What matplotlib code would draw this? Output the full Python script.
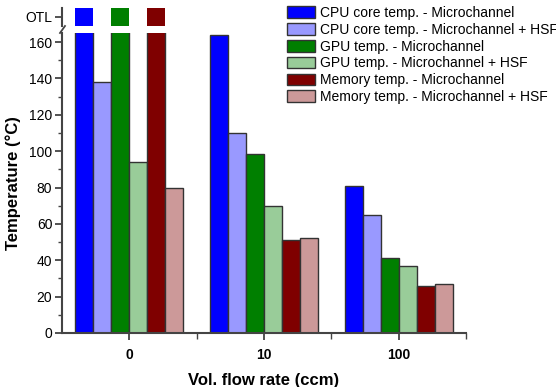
import numpy as np
import matplotlib
matplotlib.use("Agg")
import matplotlib.pyplot as plt
from matplotlib.ticker import MultipleLocator, FixedLocator

plt.rcParams['font.family'] = ['Liberation Sans', 'DejaVu Sans']

categories = ["0", "10", "100"]
series_labels = [
    "CPU core temp. - Microchannel",
    "CPU core temp. - Microchannel + HSF",
    "GPU temp. - Microchannel",
    "GPU temp. - Microchannel + HSF",
    "Memory temp. - Microchannel",
    "Memory temp. - Microchannel + HSF",
]
# "OTL" = over temperature limit
cpu_mc = ["OTL", 164, 81]
cpu_hsf = [138, 110, 65]
gpu_mc = ["OTL", 98.5, 41]
gpu_hsf = [94, 70, 37]
mem_mc = ["OTL", 51, 26]
mem_hsf = [80, 52, 27]
series_values = [cpu_mc, cpu_hsf, gpu_mc, gpu_hsf, mem_mc, mem_hsf]
colors = ["#0000FF", "#9999FF", "#007F00", "#99CC99", "#7F0000", "#CC9999"]

W, H = 556, 387
fig = plt.figure(figsize=(W / 100, H / 100), dpi=100)
left, right = 62 / W, 466 / W
ax = fig.add_axes([left, 1 - 333 / H, right - left, (333 - 33) / H])
axt = fig.add_axes([left, 1 - 26 / H, right - left, (26 - 8) / H], sharex=ax)

ymax = 165
x = np.arange(len(categories))
n = len(series_values)
bw = 0.8 / n
edge = "#333333"
for i, (vals, c, lab) in enumerate(zip(series_values, colors, series_labels)):
    pos = x - 0.4 + bw * (i + 0.5)
    lower = [ymax * 2 if v == "OTL" else v for v in vals]
    ax.bar(pos, lower, width=bw, color=c, edgecolor=edge, linewidth=1.0, label=lab)
    otl = [1 if v == "OTL" else 0 for v in vals]
    axt.bar(pos, otl, width=bw, color=c, edgecolor='none', linewidth=0)

ax.set_ylim(0, ymax)
ax.set_xlim(-0.5, 2.5)
axt.set_ylim(0, 1)

spine_c = "#444444"
for a in (ax, axt):
    for s in ("top", "right"):
        a.spines[s].set_visible(False)
    a.spines["left"].set_linewidth(1.5)
    a.spines["left"].set_color(spine_c)
axt.spines["bottom"].set_visible(False)
ax.spines["bottom"].set_linewidth(1.5)
ax.spines["bottom"].set_color(spine_c)

ax.yaxis.set_major_locator(MultipleLocator(20))
ax.yaxis.set_minor_locator(MultipleLocator(10))
ax.set_xticks(x)
ax.set_xticklabels(categories, fontweight='bold', fontsize=10)
ax.xaxis.set_minor_locator(FixedLocator([0.5, 1.5, 2.5]))
ax.tick_params(axis='y', which='major', length=5, width=1.3, color=spine_c, labelsize=10, pad=2)
ax.tick_params(axis='y', which='minor', length=3, width=1.0, color=spine_c)
ax.tick_params(axis='x', which='major', length=5, width=1.3, color=spine_c, pad=6)
ax.tick_params(axis='x', which='minor', length=4, width=1.0, color=spine_c)

axt.set_yticks([0.5])
axt.set_yticklabels(["OTL"], fontsize=10)
axt.tick_params(axis='y', length=5, width=1.3, color=spine_c, pad=2)
axt.tick_params(axis='x', which='both', bottom=False, labelbottom=False)

# break mark
fig.add_artist(plt.Line2D([60 / W, 65 / W], [1 - 33 / H, 1 - 26 / H],
                          color=spine_c, lw=1.3))

ax.set_ylabel("Temperature (°C)", fontweight='bold', fontsize=12, labelpad=6)
ax.set_xlabel("Vol. flow rate (ccm)", fontweight='bold', fontsize=12, labelpad=8)

handles, labels = ax.get_legend_handles_labels()
fig.legend(handles, labels, loc='upper left', bbox_to_anchor=(287 / W, 1 - 6 / H),
           frameon=False, fontsize=10, handlelength=2.05, handleheight=0.9,
           labelspacing=0.2, handletextpad=0.3, borderpad=0, borderaxespad=0)

fig.savefig("out.png", dpi=100)
